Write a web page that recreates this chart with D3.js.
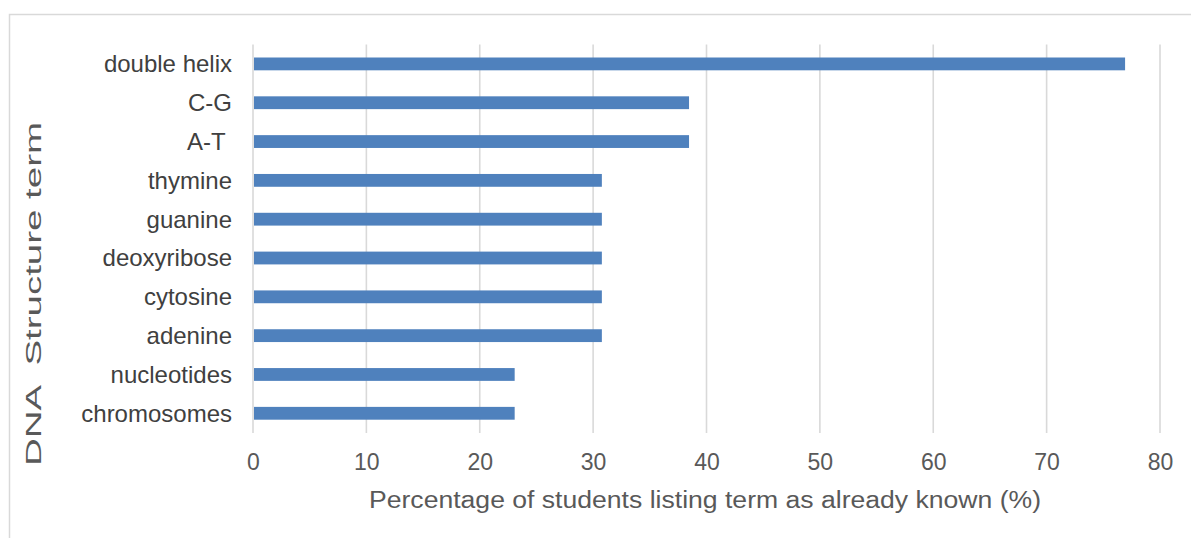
<!DOCTYPE html>
<html>
<head>
<meta charset="utf-8">
<script src="https://cdn.jsdelivr.net/npm/d3@7"></script>
<style>
  html, body { margin: 0; padding: 0; background: #fff; }
  svg { display: block; }
  text { font-family: "Liberation Sans", Arial, sans-serif; white-space: pre; }
</style>
</head>
<body>
<svg id="chart" width="1191" height="538"></svg>
<script>
const categories = ["double helix", "C-G", "A-T ", "thymine", "guanine", "deoxyribose", "cytosine", "adenine", "nucleotides", "chromosomes"];
const values = [76.92, 38.46, 38.46, 30.77, 30.77, 30.77, 30.77, 30.77, 23.08, 23.08];
const xTicks = [0, 10, 20, 30, 40, 50, 60, 70, 80];
const xTitle = "Percentage of students listing term as already known (%)";
const yTitle = "DNA  Structure term";

const svg = d3.select("#chart");

// outer chart border
svg.append("rect")
  .attr("x", 9.5).attr("y", 14.5)
  .attr("width", 1200).attr("height", 600)
  .attr("fill", "none").attr("stroke", "#d9d9d9").attr("stroke-width", 1.5);

const x = d3.scaleLinear().domain([0, 80]).range([253, 1160]);
const y = d3.scaleBand().domain(categories).range([44.5, 432.7])
  .paddingInner(0.67).paddingOuter(0.335);

// gridlines
svg.append("g").selectAll("line").data(xTicks).join("line")
  .attr("x1", d => x(d)).attr("x2", d => x(d))
  .attr("y1", 44.5).attr("y2", 433)
  .attr("stroke", "#d9d9d9").attr("stroke-width", 1.6);

// bars
svg.append("g").selectAll("rect").data(categories).join("rect")
  .attr("x", x(0) + 1)
  .attr("y", d => y(d))
  .attr("width", (d, i) => x(values[i]) - x(0) - 1)
  .attr("height", y.bandwidth())
  .attr("fill", "#4f81bd");

// x axis tick labels
const xAxis = d3.axisBottom(x).tickValues(xTicks).tickSize(0).tickPadding(0);
const gx = svg.append("g").attr("transform", "translate(0,454)").call(xAxis);
gx.select(".domain").remove();
gx.selectAll("text")
  .attr("dy", "0.71em")
  .attr("font-size", 23).attr("fill", "#595959")
  .style("font-family", "'Liberation Sans', Arial, sans-serif");

// y axis category labels
const yAxis = d3.axisLeft(y).tickSize(0).tickPadding(0);
const gy = svg.append("g").attr("transform", "translate(232,0)").call(yAxis);
gy.select(".domain").remove();
gy.selectAll("text")
  .attr("dy", "0.35em")
  .attr("font-size", 24).attr("fill", "#404040")
  .style("font-family", "'Liberation Sans', Arial, sans-serif");

// axis titles
svg.append("text")
  .attr("x", 705).attr("y", 507.5)
  .attr("text-anchor", "middle")
  .attr("font-size", 23).attr("fill", "#595959")
  .attr("textLength", 672).attr("lengthAdjust", "spacingAndGlyphs")
  .text(xTitle);

svg.append("text")
  .attr("transform", "translate(41,294) rotate(-90)")
  .attr("text-anchor", "middle")
  .attr("font-size", 22).attr("fill", "#595959")
  .attr("textLength", 344).attr("lengthAdjust", "spacingAndGlyphs")
  .text(yTitle);
</script>
</body>
</html>
